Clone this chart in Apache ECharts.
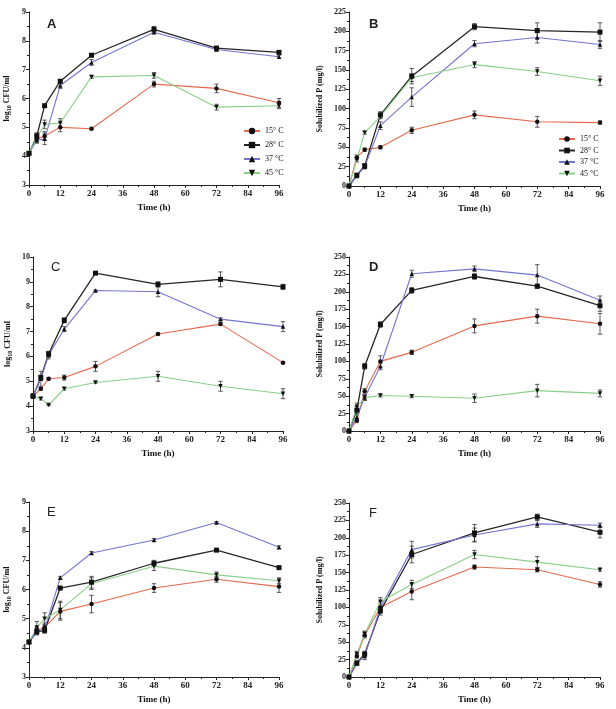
<!DOCTYPE html>
<html>
<head>
<meta charset="utf-8">
<script src="https://cdn.jsdelivr.net/npm/echarts@6/dist/echarts.min.js"></script>
<style>
html,body{margin:0;padding:0;background:#fff;}
#chart{width:616px;height:709px;}
</style>
</head>
<body>
<div id="chart"></div>
<script>
// ---- data ----
const times = [0, 3, 6, 12, 24, 48, 72, 96];
const seriesNames = ['15° C', '28° C', '37 °C', '45 °C'];
const panelLetters = ['A', 'B', 'C', 'D', 'E', 'F'];
const xName = 'Time (h)';
const cfuName = 'log{sub|10} CFU/ml';
const pName = 'Solubilized P (mg/l)';

// Panel A (log10 CFU/ml)
const A15 = [4.1, 4.6, 4.7, 5.0, 4.95, 6.5, 6.35, 5.85];
const A28 = [4.1, 4.7, 5.75, 6.6, 7.5, 8.4, 7.75, 7.6];
const A37 = [4.1, 4.55, 4.6, 6.45, 7.25, 8.3, 7.7, 7.45];
const A45 = [4.1, 4.65, 5.1, 5.15, 6.75, 6.8, 5.7, 5.75];
const A15err = [0.05, 0.1, 0.15, 0.15, 0.03, 0.1, 0.15, 0.15];
const A28err = [0.05, 0.1, 0.05, 0.05, 0.05, 0.1, 0.05, 0.05];
const A37err = [0.05, 0.1, 0.2, 0.1, 0.1, 0.05, 0.05, 0.05];
const A45err = [0.05, 0.15, 0.15, 0.15, 0.05, 0.1, 0.1, 0.1];

// Panel B (Solubilized P)
const B15 = [0, 37, 47, 50, 72, 92, 83, 82];
const B28 = [0, 14, 26, 92, 142, 206, 201, 199];
const B37 = [0, 13, 25, 78, 115, 184, 192, 183];
const B45 = [0, 34, 69, 90, 140, 157, 148, 136];
const B15err = [0, 3, 2, 2, 4, 5, 7, 2];
const B28err = [0, 2, 3, 4, 10, 4, 10, 12];
const B37err = [0, 2, 3, 5, 12, 4, 7, 5];
const B45err = [0, 3, 2, 3, 5, 4, 5, 6];

// Panel C
const C15 = [4.4, 4.7, 5.1, 5.15, 5.6, 6.9, 7.3, 5.75];
const C28 = [4.4, 5.15, 6.1, 7.45, 9.35, 8.9, 9.1, 8.8];
const C37 = [4.4, 5.1, 6.05, 7.1, 8.65, 8.6, 7.5, 7.2];
const C45 = [4.4, 4.3, 4.05, 4.7, 4.95, 5.2, 4.8, 4.5];
const C15err = [0.05, 0.05, 0.05, 0.1, 0.2, 0.03, 0.05, 0.03];
const C28err = [0.05, 0.1, 0.1, 0.1, 0.03, 0.1, 0.3, 0.1];
const C37err = [0.05, 0.3, 0.15, 0.1, 0.03, 0.2, 0.05, 0.2];
const C45err = [0.05, 0.05, 0.03, 0.05, 0.03, 0.2, 0.2, 0.2];

// Panel D
const D15 = [0, 15, 57, 100, 113, 151, 165, 154];
const D28 = [0, 30, 93, 153, 202, 222, 208, 180];
const D37 = [0, 20, 48, 93, 226, 233, 224, 188];
const D45 = [0, 35, 48, 51, 50, 47, 58, 54];
const D15err = [0, 3, 4, 8, 3, 10, 10, 15];
const D28err = [0, 5, 4, 4, 4, 4, 3, 8];
const D37err = [0, 5, 4, 5, 5, 4, 15, 6];
const D45err = [0, 5, 4, 2, 2, 6, 9, 5];

// Panel E
const E15 = [4.2, 4.6, 4.7, 5.25, 5.5, 6.05, 6.35, 6.1];
const E28 = [4.2, 4.55, 4.6, 6.05, 6.25, 6.9, 7.35, 6.75];
const E37 = [4.2, 4.55, 4.65, 6.4, 7.25, 7.7, 8.3, 7.45];
const E45 = [4.2, 4.7, 5.0, 5.3, 6.2, 6.8, 6.5, 6.3];
const E15err = [0.05, 0.1, 0.15, 0.3, 0.3, 0.15, 0.1, 0.2];
const E28err = [0.05, 0.1, 0.1, 0.03, 0.2, 0.1, 0.03, 0.03];
const E37err = [0.05, 0.1, 0.1, 0.05, 0.05, 0.05, 0.03, 0.05];
const E45err = [0.05, 0.2, 0.2, 0.3, 0.2, 0.15, 0.1, 0.1];

// Panel F
const F15 = [0, 30, 60, 100, 123, 158, 154, 133];
const F28 = [0, 20, 33, 95, 176, 207, 230, 208];
const F37 = [0, 20, 30, 100, 183, 204, 220, 218];
const F45 = [0, 33, 62, 108, 133, 176, 165, 154];
const F15err = [0, 3, 4, 5, 12, 3, 3, 4];
const F28err = [0, 3, 4, 6, 12, 12, 4, 8];
const F37err = [0, 3, 5, 8, 12, 10, 5, 3];
const F45err = [0, 4, 4, 6, 6, 6, 8, 2];

// ---- build ----
const colors = ['#e6694f', '#262626', '#7474d2', '#88cf88'];
const symbols = ['circle', 'rect', 'triangle', 'triangle'];
const symRot = [0, 0, 0, 180];

const panels = [
  {vals: [A15, A28, A37, A45], errs: [A15err, A28err, A37err, A45err], yMin: 3, yMax: 9, yInt: 1, yName: cfuName, grid: {left: 29, top: 12, width: 250, height: 173}, nameGap: 17},
  {vals: [B15, B28, B37, B45], errs: [B15err, B28err, B37err, B45err], yMin: 0, yMax: 225, yInt: 25, yName: pName, grid: {left: 349, top: 12, width: 251, height: 174}, nameGap: 25},
  {vals: [C15, C28, C37, C45], errs: [C15err, C28err, C37err, C45err], yMin: 3, yMax: 10, yInt: 1, yName: cfuName, grid: {left: 33, top: 257, width: 250, height: 174}, nameGap: 20},
  {vals: [D15, D28, D37, D45], errs: [D15err, D28err, D37err, D45err], yMin: 0, yMax: 250, yInt: 25, yName: pName, grid: {left: 349, top: 257, width: 251, height: 174}, nameGap: 25},
  {vals: [E15, E28, E37, E45], errs: [E15err, E28err, E37err, E45err], yMin: 3, yMax: 9, yInt: 1, yName: cfuName, grid: {left: 29, top: 502, width: 250, height: 175}, nameGap: 17},
  {vals: [F15, F28, F37, F45], errs: [F15err, F28err, F37err, F45err], yMin: 0, yMax: 250, yInt: 25, yName: pName, grid: {left: 349, top: 503, width: 251, height: 174}, nameGap: 25}
];

const serif = '"Liberation Serif", "DejaVu Serif", serif';
const grids = [], xAxes = [], yAxes = [], series = [], graphics = [];

panels.forEach((p, i) => {
  grids.push(p.grid);
  xAxes.push({
    type: 'value', gridIndex: i, min: 0, max: 96, interval: 12,
    name: xName, nameLocation: 'middle', nameGap: 18,
    nameTextStyle: {fontFamily: serif, fontWeight: 'bold', fontSize: 9, color: '#111'},
    axisLine: {show: true, onZero: false, lineStyle: {color: '#222', width: 1}},
    axisTick: {show: true, length: 3, lineStyle: {color: '#222'}},
    minorTick: {show: true, splitNumber: 2, length: 2, lineStyle: {color: '#222'}},
    axisLabel: {fontFamily: serif, fontWeight: 'bold', fontSize: 9, color: '#222', margin: 4},
    splitLine: {show: false}
  });
  yAxes.push({
    type: 'value', gridIndex: i, min: p.yMin, max: p.yMax, interval: p.yInt,
    name: p.yName, nameLocation: 'middle', nameGap: p.nameGap, nameRotate: 90,
    nameTextStyle: {fontFamily: serif, fontWeight: 'bold', fontSize: 8, color: '#111',
      rich: {sub: {fontFamily: serif, fontWeight: 'bold', fontSize: 6, verticalAlign: 'bottom', padding: [4, 0, 0, 0]}}},
    axisLine: {show: true, onZero: false, lineStyle: {color: '#222', width: 1}},
    axisTick: {show: true, length: 3, lineStyle: {color: '#222'}},
    minorTick: {show: true, splitNumber: 2, length: 2, lineStyle: {color: '#222'}},
    axisLabel: {fontFamily: serif, fontWeight: 'bold', fontSize: 8, color: '#222', margin: 3},
    splitLine: {show: false}
  });
  p.vals.forEach((v, s) => {
    const e = p.errs[s];
    series.push({
      type: 'custom', xAxisIndex: i, yAxisIndex: i, silent: true, z: 1,
      data: times.map((t, k) => [t, v[k] - e[k], v[k] + e[k]]).filter((d, k) => e[k] > 0),
      encode: {x: 0, y: [1, 2]},
      renderItem: (params, api) => {
        const lo = api.coord([api.value(0), api.value(1)]);
        const hi = api.coord([api.value(0), api.value(2)]);
        const w = 2.2;
        const st = {stroke: '#333', lineWidth: 0.8};
        return {type: 'group', children: [
          {type: 'line', shape: {x1: lo[0], y1: lo[1], x2: hi[0], y2: hi[1]}, style: st},
          {type: 'line', shape: {x1: lo[0] - w, y1: lo[1], x2: lo[0] + w, y2: lo[1]}, style: st},
          {type: 'line', shape: {x1: hi[0] - w, y1: hi[1], x2: hi[0] + w, y2: hi[1]}, style: st}
        ]};
      }
    });
    series.push({
      type: 'line', name: seriesNames[s], xAxisIndex: i, yAxisIndex: i, z: 3,
      data: times.map((t, k) => [t, v[k]]),
      symbol: symbols[s], symbolRotate: symRot[s], symbolSize: s === 1 ? 5 : 4.5,
      showAllSymbol: true,
      lineStyle: {color: colors[s], width: s === 1 ? 1.3 : 1.1},
      itemStyle: {color: '#111', borderWidth: 0},
      emphasis: {disabled: true}
    });
  });
  graphics.push({
    type: 'text',
    left: p.grid.left + (i % 2 === 0 ? 18 : 20),
    top: p.grid.top + (i < 2 ? 6 : 4),
    style: {text: panelLetters[i], font: (i === 0 || i === 1 || i === 3 ? 'bold ' : '') + '13px "Liberation Sans", Arial, sans-serif', fill: '#222'}
  });
});

const legendBase = {
  data: seriesNames, orient: 'vertical', itemWidth: 16,
  textStyle: {fontFamily: serif, fontSize: 8, color: '#111'}, selectedMode: false
};

const option = {
  backgroundColor: '#fff',
  animation: false,
  grid: grids,
  xAxis: xAxes,
  yAxis: yAxes,
  series: series,
  legend: [
    Object.assign({}, legendBase, {left: 238, top: 122, itemHeight: 8, itemGap: 6}),
    Object.assign({}, legendBase, {left: 553, top: 130, itemHeight: 7, itemGap: 3.5})
  ],
  graphic: graphics
};

const chart = echarts.init(document.getElementById('chart'), null, {renderer: 'canvas'});
chart.setOption(option);
</script>
</body>
</html>
